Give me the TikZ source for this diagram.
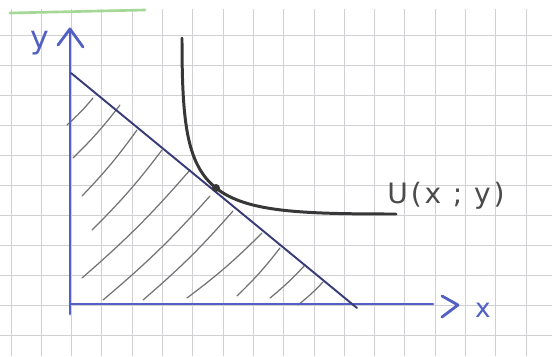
\documentclass[tikz,border=0pt]{standalone}
\usepackage{fontspec}
\newfontfamily\handfont[LetterSpace=10]{DejaVu Sans}
\newfontfamily\axfont{DejaVu Sans}
\definecolor{axisblue}{RGB}{82,96,195}
\definecolor{budgetc}{RGB}{55,60,120}
\definecolor{curvec}{RGB}{55,55,55}
\definecolor{hatchc}{RGB}{115,115,115}
\definecolor{gridc}{RGB}{208,208,212}
\definecolor{labgray}{RGB}{75,75,75}
\definecolor{greenc}{RGB}{165,215,150}
\begin{document}
\begin{tikzpicture}[x=0.02cm,y=-0.02cm,
  gridline/.style={draw=gridc,line width=0.55pt},
  axisline/.style={draw=axisblue,line width=1.6pt,line cap=round,line join=round},
  budget/.style={draw=budgetc,line width=1.1pt,line cap=round},
  ucurve/.style={draw=curvec,line width=1.7pt,line cap=round},
  hatchline/.style={draw=hatchc,line width=0.7pt,line cap=round},
  axlab/.style={text=axisblue,font=\axfont\fontsize{18}{18}\selectfont,inner sep=0pt},
  ulab/.style={text=labgray,font=\handfont\fontsize{16}{16}\selectfont,inner sep=0pt}]
\useasboundingbox (0,0) rectangle (552,356);
\fill[white] (0,0) rectangle (552,356);
% grid paper
\foreach \i in {0,...,17} \draw[gridline] ({11+30.3*\i},9) -- ({11+30.3*\i},356);
\foreach \j in {1,...,11} \draw[gridline] (0,{5+30*\j}) -- (552,{5+30*\j});
\draw[draw=greenc,line width=1.5pt,line cap=round] (10,13) -- (145,10);
% coordinates
\coordinate (O) at (70,304);
\coordinate (ytop) at (70,29);
\coordinate (ybot) at (70,314);
\coordinate (xend) at (433,304);
\coordinate (B1) at (71,73);
\coordinate (B2) at (357,308);
\coordinate (T) at (216,188);
\coordinate (Ustart) at (182,38);
\coordinate (Uend) at (396,214);
% hatching
\foreach \xa/\ya/\xb/\yb in {67/125/93/98, 73/158/120/105, 82/196/137/130, 92/230/162/150,
  82/278/190/170, 103/300/210/196, 143/300/233/211, 187/298/262/233,
  237/296/280/248, 270/298/305/265, 298/305/323/282}
  \draw[hatchline] (\xa,\ya) to[bend right=4] (\xb,\yb);
% axes
\draw[axisline] (ybot) -- (ytop);
\draw[axisline] (58,45) -- (ytop) -- (83,47);
\draw[axisline] (O) -- (xend);
\coordinate (xtip) at (458,305);
\draw[axisline] (442,296) -- (xtip) -- (442,317);
% budget line
\draw[budget] (B1) -- (B2);
% indifference curve
\draw[ucurve] (Ustart) .. controls (182,120) and (186,164) .. (T)
  .. controls (246,212) and (300,214) .. (Uend);
\fill[curvec] (T) circle (4);
% labels
\node[axlab] (ylabel) at (40,43) {y};
\node[axlab,font=\axfont\fontsize{15}{15}\selectfont] (xlabel) at (483,310) {x};
\node[ulab] (ulabel) at (446,196) {U(x ; y)};
\end{tikzpicture}
\end{document}
